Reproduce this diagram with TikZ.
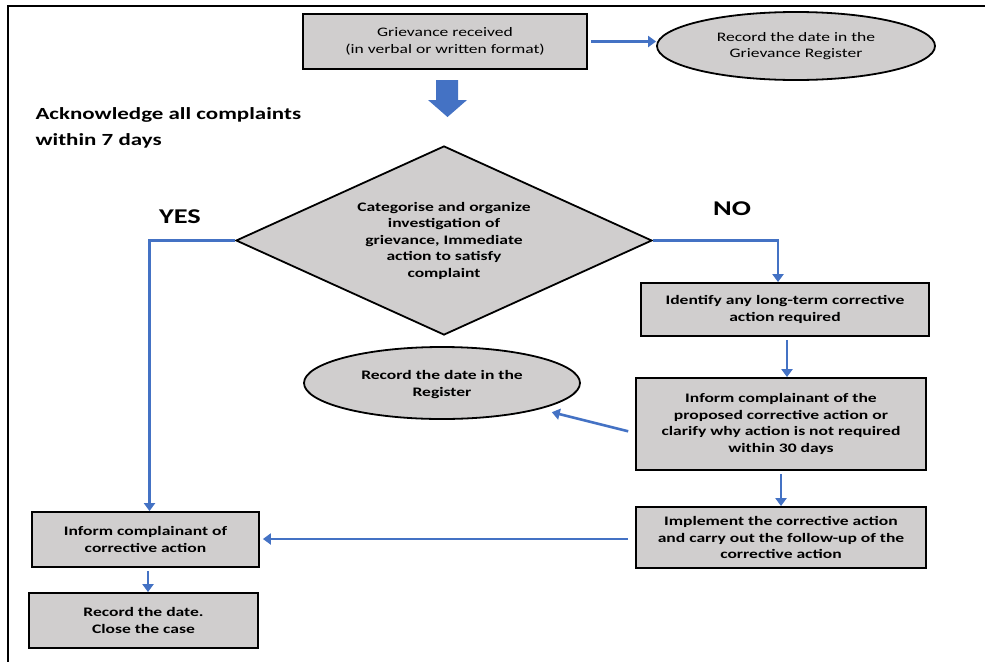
\documentclass[tikz,border=0pt]{standalone}
\usepackage{fontspec}
\setmainfont[FakeStretch=1.35]{Carlito}
\usetikzlibrary{shapes.geometric,arrows.meta}
\definecolor{boxgray}{HTML}{D0CECE}
\definecolor{arrblue}{HTML}{4472C4}
\begin{document}
\begin{tikzpicture}[x=1pt,y=-1pt,
  box/.style={draw=black, line width=1.8pt, fill=boxgray, align=center, inner sep=0pt,
    font=\bfseries\fontsize{13}{16.5}\selectfont},
  oval/.style={ellipse, draw=black, line width=1.8pt, fill=boxgray, inner sep=0pt},
  conn/.style={draw=arrblue, line width=2.6pt, -{Triangle[length=8pt,width=11pt]}, shorten <=3pt},
  lbl/.style={font=\bfseries\fontsize{21}{24}\selectfont}
]
\useasboundingbox (0,0) rectangle (985,662);
\draw[line width=1.5pt] (985,6) -- (8,6) -- (8,662);

\node[box, minimum width=284pt, minimum height=55pt, font=\fontsize{13}{16.5}\selectfont] (top) at (445,41.5)
  {Grievance received\\(in verbal or written format)};
\node[oval, minimum width=278pt, minimum height=68pt, align=center, font=\fontsize{13}{16.5}\selectfont] (e1) at (796,46)
  {Record the date in the\\Grievance Register};

\node[align=left, anchor=west, font=\bfseries\fontsize{17}{26}\selectfont] (ack) at (32,128)
  {Acknowledge all complaints\\within 7 days};

\path[fill=arrblue] (436,80) -- (458,80) -- (458,100) -- (467,100) -- (447.5,117) -- (428,100) -- (436,100) -- cycle;

\node[diamond, aspect=2.2, draw=black, line width=1.8pt, fill=boxgray, inner sep=0pt, minimum width=416pt, minimum height=189pt,
  align=center, font=\bfseries\fontsize{13}{16.5}\selectfont] (diam) at (444,240.5)
  {Categorise and organize\\investigation of\\grievance, Immediate\\action to satisfy\\complaint};

\node[lbl] (yes) at (180,217) {YES};
\node[lbl] (no) at (732,209) {NO};

\node[box, minimum width=288pt, minimum height=53pt] (id) at (785,309.5)
  {Identify any long-term corrective\\action required};
\node[box, minimum width=290pt, minimum height=92pt] (inf2) at (781,424)
  {Inform complainant of the\\proposed corrective action or\\clarify why action is not required\\within 30 days};
\node[oval, minimum width=276pt, minimum height=72pt] (e2) at (442,383) {};
\node[align=center, font=\bfseries\fontsize{13}{16.5}\selectfont] (e2t) at (442,384.5)
  {Record the date in the\\Register};
\node[box, minimum width=290pt, minimum height=61pt] (impl) at (781,537.5)
  {Implement the corrective action\\and carry out the follow-up of the\\corrective action};
\node[box, minimum width=227pt, minimum height=55pt] (inf1) at (145.5,539.5)
  {Inform complainant of\\corrective action};
\node[box, minimum width=229pt, minimum height=55pt] (rec) at (143.5,620.5)
  {Record the date.\\Close the case};

\draw[conn] (top.east) -- (top.east -| e1.west);
\draw[conn, shorten <=0pt] (diam.west) -| ([xshift=4pt]inf1.north);
\draw[conn, shorten <=0pt] (diam.east) -| ([xshift=-7pt]id.north);
\draw[conn] ([xshift=2pt]id.south) -- ([xshift=2pt]id.south |- inf2.north);
\draw[conn] ([shift={(-4pt,-8pt)}]inf2.west) -- ([shift={(12pt,-3pt)}]e2.-15);
\draw[conn] (inf2.south) -- (impl.north);
\draw[conn] ([shift={(-4pt,-1.5pt)}]impl.west) -- ([shift={(3pt,-1.5pt)}]impl.west -| inf1.east);
\draw[conn] ([xshift=2.5pt]inf1.south) -- ([xshift=2.5pt]inf1.south |- rec.north);
\end{tikzpicture}
\end{document}
